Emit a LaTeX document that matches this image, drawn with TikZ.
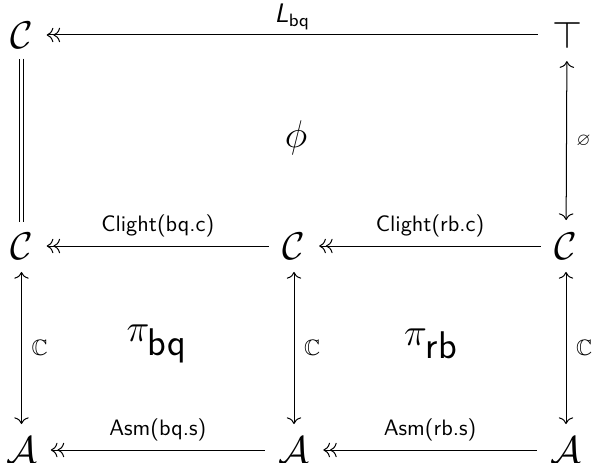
\documentclass[tikz,border=0pt]{standalone}
\usepackage{amssymb}
\usetikzlibrary{arrows.meta}

\tikzset{
  obj/.style={font=\LARGE, inner sep=1.5pt},
  lbl/.style={font=\sffamily},
  cell/.style={font=\LARGE},
  epi/.style={<<-, shorten <=4.5pt, shorten >=4.5pt},
  iso/.style={<->, shorten <=4pt, shorten >=4pt},
}

\begin{document}
\begin{tikzpicture}[>={To[length=3pt,width=6.5pt]}, x=0.448pt, y=-0.448pt, line width=0.45pt]
  \useasboundingbox (0,0) rectangle (592,462);
  % objects
  \node[obj] (c0) at (21.5,35) {$\mathcal{C}$};
  \node[obj] (top) at (567,35) {$\top$};
  \node[obj] (c1) at (21.5,246) {$\mathcal{C}$};
  \node[obj] (c2) at (294,246) {$\mathcal{C}$};
  \node[obj] (c3) at (566,246) {$\mathcal{C}$};
  \node[obj] (a1) at (21.5,450) {$\mathcal{A}$};
  \node[obj] (a2) at (294,450) {$\mathcal{A}$};
  \node[obj] (a3) at (566,450) {$\mathcal{A}$};

  % top square
  \draw[epi] (c0) -- (top) node[midway, anchor=base, yshift=5.5pt, font=\large\sffamily] {\textsl{L}\textsubscript{bq}};
  \draw[double, double distance=1.5pt, shorten <=3pt, shorten >=3pt] (c0) -- (c1);
  \draw[iso] (top) -- (c3) node[midway, right=1pt] {\footnotesize$\varnothing$};
  \node[cell] (phi) at (296,138) {$\phi$};

  % middle row
  \draw[epi] (c1) -- (c2) node[midway, above=0.5pt, lbl] {Clight(bq.c)};
  \draw[epi] (c2) -- (c3) node[midway, above=0.5pt, lbl] {Clight(rb.c)};

  % verticals
  \draw[iso] (c1) -- (a1) node[midway, right=1pt] {$\mathbb{C}$};
  \draw[iso] (c2) -- (a2) node[midway, right=1pt] {$\mathbb{C}$};
  \draw[iso] (c3) -- (a3) node[midway, right=1pt] {$\mathbb{C}$};

  % bottom row
  \draw[epi] (a1) -- (a2) node[midway, above=0.5pt, lbl] {Asm(bq.s)};
  \draw[epi] (a2) -- (a3) node[midway, above=0.5pt, lbl] {Asm(rb.s)};

  \node[cell] (pibq) at (157,344) {$\pi_{\textsf{bq}}$};
  \node[cell] (pirb) at (431,344) {$\pi_{\textsf{rb}}$};
\end{tikzpicture}
\end{document}
